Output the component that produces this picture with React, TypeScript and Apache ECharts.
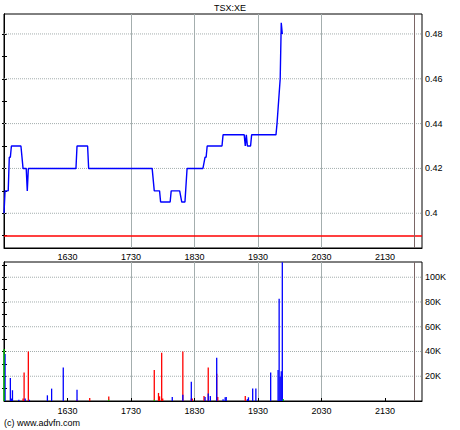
import React, { useEffect, useRef } from "react";
import * as echarts from "echarts";

// ---- data ----
const openTime = "15:30";
const sessionEnd = "21:58";
const axisEndMinutes = 395; // 15:30 -> 22:05

const priceTimes = [
  "15:30", "15:31", "15:34", "15:35", "15:36", "15:37", "15:46", "15:48", "15:51", "15:52",
  "15:53", "16:38", "16:39", "16:49", "16:50", "17:50", "17:52", "17:57", "17:58", "18:07",
  "18:08", "18:16", "18:18", "18:21", "18:23", "18:38", "18:40", "18:41", "18:42", "18:56",
  "18:57", "19:17", "19:18", "19:19", "19:20", "19:23", "19:24", "19:47", "19:48", "19:51",
  "19:52", "19:53",
];
const prices = [
  0.4, 0.41, 0.41, 0.425, 0.425, 0.43, 0.43, 0.42, 0.42, 0.41,
  0.42, 0.42, 0.43, 0.43, 0.42, 0.42, 0.41, 0.41, 0.405, 0.405,
  0.41, 0.41, 0.405, 0.405, 0.42, 0.42, 0.425, 0.425, 0.43, 0.43,
  0.435, 0.435, 0.43, 0.435, 0.43, 0.43, 0.435, 0.435, 0.44, 0.46,
  0.485, 0.48,
];
const prevClose = 0.39;

const volTimes = [
  "15:30", "15:31", "15:36", "15:37", "15:38", "15:44", "15:48", "15:49", "15:50", "15:53",
  "15:54", "16:11", "16:15", "16:26", "16:39", "16:51", "17:09", "17:52", "17:56", "17:57",
  "17:59", "18:00", "18:09", "18:19", "18:27", "18:28", "18:39", "18:40", "18:43", "18:45",
  "18:51", "18:52", "18:57", "18:59", "19:00", "19:18", "19:20", "19:21", "19:25", "19:28",
  "19:42", "19:49", "19:50", "19:51", "19:52", "19:53", "19:54",
];
// volumes in thousands of shares
const volRed = [
  0, 0, 0, 0, 0, 0, 2, 23, 0, 40,
  0, 0, 0, 0, 1, 2.4, 3.6, 25, 6.5, 3.8,
  39, 2, 0, 40, 2, 2, 4, 0, 27, 0,
  22, 3.2, 0, 0, 0, 4, 0, 1, 0, 0,
  0, 0, 0, 0, 0, 0, 1,
];
const volBlue = [
  0, 38, 18.6, 2, 8.7, 1, 0, 0, 2, 0,
  1, 4.6, 10, 27, 9, 0, 0, 0, 0, 0,
  0, 0, 3.2, 5, 15.6, 0, 0, 3.2, 6, 4,
  35, 0, 1.5, 3, 3.2, 0, 1.5, 3, 10, 10,
  23, 25, 82.6, 19.5, 24, 112, 0,
];
const volGreen = [
  42, 0, 0, 0, 0, 0, 0, 0, 0, 0,
  0, 0, 0, 0, 0, 0, 1, 1, 0, 0,
  0, 0, 0, 0, 0, 0, 0, 0, 0, 0,
  0, 0, 0, 0, 0, 0, 0, 0, 0, 0,
  0, 0, 0, 0, 0, 0, 1.5,
];

const timeLabels = ["1630", "1730", "1830", "1930", "2030", "2130"];
const priceLabels = [0.4, 0.42, 0.44, 0.46, 0.48];
const priceTicks = [0.39, 0.4, 0.41, 0.42, 0.43, 0.44, 0.45, 0.46, 0.47, 0.48];
const volLabels = [20, 40, 60, 80, 100];
const volTicks = [10, 20, 30, 40, 50, 60, 70, 80, 90, 100, 110];

// ---- helpers ----
const clockToMin = (s: string) => {
  const [h, m] = s.split(":").map(Number);
  return h * 60 + m;
};
const OPEN_MIN = clockToMin(openTime);
const sinceOpen = (s: string) => clockToMin(s) - OPEN_MIN;
const hhmmToOffset = (s: string) =>
  Number(s.slice(0, 2)) * 60 + Number(s.slice(2)) - OPEN_MIN;
const offsetToHhmm = (v: number) => {
  const t = Math.round(v) + OPEN_MIN;
  const h = Math.floor(t / 60);
  const m = t % 60;
  return `${h}${m < 10 ? "0" : ""}${m}`;
};

export default function App() {
  const ref = useRef<HTMLDivElement>(null);

  useEffect(() => {
    if (!ref.current) return;
    const chart = echarts.init(ref.current, undefined, { renderer: "svg" });

    const fontFamily = '"Liberation Sans", Arial, sans-serif';
    const font = { fontFamily, fontSize: 9, color: "#000" };
    const gridColor = "#a4aeae";
    const gridLineStyle = { color: gridColor, width: 1, type: "solid" as const };
    const labelMins = timeLabels.map(hhmmToOffset);
    const endLine = sinceOpen(sessionEnd);

    const xAxisFor = (g: number) => ({
      type: "value" as const,
      gridIndex: g,
      min: 0,
      max: axisEndMinutes,
      interval: 60,
      axisLine: { show: true, onZero: false, lineStyle: { color: "#000", width: 1 } },
      axisTick: {
        show: g === 1,
        inside: true,
        length: 3,
        customValues: labelMins,
        lineStyle: { color: "#000" },
      },
      axisLabel: {
        ...font,
        margin: g === 0 ? 4 : 5,
        customValues: labelMins,
        formatter: (v: number) => offsetToHhmm(v),
      },
      splitLine: { show: true, showMinLine: false, showMaxLine: false, lineStyle: gridLineStyle },
    });

    const sideAxis = (
      g: number,
      pos: "left" | "right",
      min: number,
      max: number,
      ticks: number[],
      labels: number[] | null,
      fmt: (v: number) => string
    ) => ({
      type: "value" as const,
      gridIndex: g,
      position: pos,
      min,
      max,
      axisLine: { show: true, lineStyle: { color: "#000" } },
      axisTick: { show: true, length: pos === "right" ? 3 : 2, customValues: ticks, lineStyle: { color: "#000" } },
      axisLabel: labels
        ? { ...font, margin: 3, customValues: labels, formatter: fmt }
        : { show: false },
      splitLine: { show: false },
    });

    const priceData = priceTimes.map((t, i) => [sinceOpen(t), prices[i]]);
    const volX = volTimes.map(sinceOpen);
    const barSeries = (name: string, vals: number[], color: string, withMark: boolean) => ({
      name,
      type: "bar" as const,
      xAxisIndex: 1,
      yAxisIndex: 2,
      stack: "vol",
      barWidth: 1.3,
      z: 10,
      itemStyle: { color },
      data: vals.map((v, i) => [volX[i], v]),
      markLine: withMark
        ? {
            silent: true,
            symbol: "none",
            label: { show: false },
            data: [{ xAxis: endLine, lineStyle: { color: "#7a6666", width: 1, type: "solid" } }],
          }
        : undefined,
    });

    // horizontal grid lines: a line series per grid value, drawn through the axis scales
    const hGridSeries = (xi: number, yi: number, vals: number[]) =>
      vals.map((v) => ({
        type: "line" as const,
        xAxisIndex: xi,
        yAxisIndex: yi,
        silent: true,
        symbol: "none",
        showSymbol: false,
        z: 1,
        lineStyle: { color: gridColor, width: 1, type: "dotted" as const },
        data: [
          [0, v],
          [axisEndMinutes, v],
        ],
      }));

    const pMin = 0.3845;
    const pMax = 0.4889;
    const vMax = 112.3;

    chart.setOption({
      animation: false,
      backgroundColor: "#fff",
      grid: [
        { left: 4, top: 14, width: 418, height: 234, show: true, borderColor: "#000", borderWidth: 1, backgroundColor: "transparent" },
        { left: 4, top: 262, width: 418, height: 139, show: true, borderColor: "#000", borderWidth: 1, backgroundColor: "transparent" },
      ],
      xAxis: [xAxisFor(0), xAxisFor(1)],
      yAxis: [
        sideAxis(0, "right", pMin, pMax, priceTicks, priceLabels, (v) => String(+v.toFixed(3))),
        sideAxis(0, "left", pMin, pMax, priceTicks, null, (v) => String(v)),
        sideAxis(1, "right", 0, vMax, volTicks, volLabels, (v) => `${v}K`),
        sideAxis(1, "left", 0, vMax, volTicks, null, (v) => String(v)),
      ],
      series: [
        ...hGridSeries(0, 0, priceLabels),
        ...hGridSeries(1, 2, volLabels),
        {
          name: "Price",
          type: "line",
          xAxisIndex: 0,
          yAxisIndex: 0,
          showSymbol: false,
          symbol: "none",
          lineStyle: { color: "#0000ff", width: 1.4 },
          data: priceData,
          z: 10,
          markLine: {
            silent: true,
            symbol: "none",
            label: { show: false },
            data: [
              { yAxis: prevClose, lineStyle: { color: "#ff0000", width: 1.5, type: "solid" } },
              { xAxis: endLine, lineStyle: { color: "#7a6666", width: 1, type: "solid" } },
            ],
          },
        },
        barSeries("Down", volRed, "#ff0000", true),
        barSeries("Up", volBlue, "#0000ff", false),
        barSeries("Other", volGreen, "#00cc00", false),
      ],
      graphic: [
        {
          type: "text",
          left: "center",
          top: 3,
          style: { text: "TSX:XE", font: `9px ${fontFamily}`, fill: "#000" },
        },
        {
          type: "text",
          left: 4,
          top: 418,
          style: { text: "(c) www.advfn.com", font: `9px ${fontFamily}`, fill: "#000" },
        },
      ],
    });

    return () => chart.dispose();
  }, []);

  return (
    <div
      ref={ref}
      style={{ position: "absolute", left: 0, top: 0, width: 460, height: 430 }}
    />
  );
}
